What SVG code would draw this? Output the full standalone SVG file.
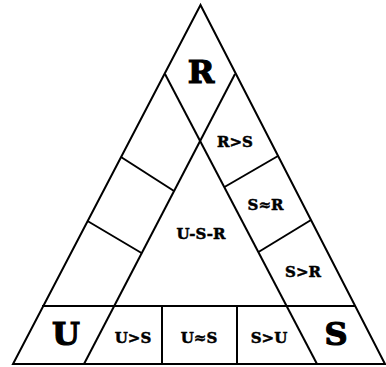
<svg xmlns="http://www.w3.org/2000/svg" width="386" height="367" viewBox="0 0 386 367">
<style>
.ln{stroke:#000;stroke-width:2;fill:none;stroke-linejoin:miter}
.big{font-family:"DejaVu Serif",serif;font-weight:bold;font-size:32px;text-anchor:middle;fill:#000;stroke:#000;stroke-width:1.2}
.sm{font-family:"DejaVu Serif",serif;font-weight:bold;font-size:15px;text-anchor:middle;fill:#000;stroke:#000;stroke-width:0.5}
</style>
<rect width="386" height="367" fill="#fff"/>
<g id="connectors">
<polygon class="ln" points="200.5,5 13,364 385,364"/>
<line class="ln" x1="165" y1="74" x2="317" y2="364"/>
<line class="ln" x1="235" y1="74" x2="84" y2="364"/>
<line class="ln" x1="42" y1="306" x2="355" y2="306"/>
<line class="ln" x1="162" y1="306" x2="162" y2="364"/>
<line class="ln" x1="237" y1="306" x2="237" y2="364"/>
<line class="ln" x1="121" y1="157" x2="174" y2="191"/>
<line class="ln" x1="87.5" y1="221" x2="141.5" y2="253"/>
<line class="ln" x1="224.5" y1="187" x2="278" y2="156"/>
<line class="ln" x1="258.5" y1="252" x2="311" y2="220"/>
</g>
<g id="R"><text class="big" x="201" y="83">R</text></g>
<g id="U"><text class="big" x="66" y="345">U</text></g>
<g id="S"><text class="big" x="336" y="345">S</text></g>
<g id="RgtS"><text class="sm" x="235" y="147">R&gt;S</text></g>
<g id="SeqR"><text class="sm" x="265.5" y="210">S≈R</text></g>
<g id="SgtR"><text class="sm" x="303" y="276.5">S&gt;R</text></g>
<g id="USR"><text class="sm" x="201" y="239">U-S-R</text></g>
<g id="UgtS"><text class="sm" x="133" y="343">U&gt;S</text></g>
<g id="UeqS"><text class="sm" x="199" y="343">U≈S</text></g>
<g id="SgtU"><text class="sm" x="269" y="343">S&gt;U</text></g>
</svg>
